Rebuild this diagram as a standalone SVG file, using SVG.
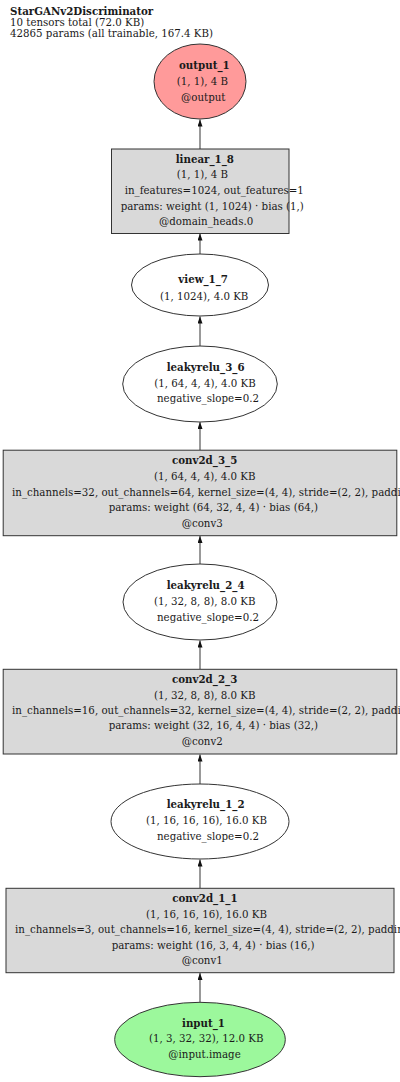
<svg xmlns="http://www.w3.org/2000/svg" width="400" height="1082" viewBox="0 0 400 1082">
<style>
text{font-family:"DejaVu Serif","Liberation Serif",serif;font-size:10.25px;fill:#1a1a1a}
.b{font-weight:bold}
.box{fill:#d9d9d9;stroke:#333;stroke-width:1}
.ell{fill:#fff;stroke:#333;stroke-width:1}
.e{stroke:#6e6e6e;stroke-width:1.4;fill:none;marker-end:url(#ah)}
</style>
<defs>
<marker id="ah" markerUnits="userSpaceOnUse" markerWidth="8" markerHeight="6" refX="7" refY="2.5" orient="auto">
<path d="M0,0 L7,2.5 L0,5 z" fill="#111"/>
</marker>
</defs>
<rect width="400" height="1082" fill="#fff"/>
<g id="title">
<text x="10" y="14.5" class="b">StarGANv2Discriminator</text>
<text x="10" y="25.8">10 tensors total (72.0 KB)</text>
<text x="10" y="37">42865 params (all trainable, 167.4 KB)</text>
</g>
<g id="edges">
<line class="e" x1="200" y1="149" x2="200" y2="119.5"/>
<line class="e" x1="200" y1="254" x2="200" y2="233.5"/>
<line class="e" x1="200" y1="346" x2="200" y2="316.5"/>
<line class="e" x1="200" y1="450" x2="200" y2="422"/>
<line class="e" x1="200" y1="564" x2="200" y2="536"/>
<line class="e" x1="200" y1="669" x2="200" y2="640.5"/>
<line class="e" x1="200" y1="784" x2="200" y2="754.5"/>
<line class="e" x1="200" y1="888" x2="200" y2="859.5"/>
<line class="e" x1="200" y1="1002" x2="200" y2="973"/>
</g>
<g id="output_1">
<ellipse cx="200" cy="81.5" rx="46" ry="37.5" fill="#ff9a9a" stroke="#333"/>
<text x="179" y="69" class="b">output_1</text>
<text x="176.7" y="85">(1, 1), 4 B</text>
<text x="181" y="100.7">@output</text>
</g>
<g id="linear_1_8">
<rect class="box" x="111.5" y="149" width="177.5" height="84.5"/>
<text x="175.7" y="162.5" class="b">linear_1_8</text>
<text x="176.7" y="178">(1, 1), 4 B</text>
<text x="124.7" y="194">in_features=1024, out_features=1</text>
<text x="120.7" y="209.5">params: weight (1, 1024) · bias (1,)</text>
<text x="159" y="225">@domain_heads.0</text>
</g>
<g id="view_1_7">
<ellipse class="ell" cx="200" cy="285" rx="68.5" ry="31"/>
<text x="178.3" y="283.3" class="b">view_1_7</text>
<text x="160" y="300">(1, 1024), 4.0 KB</text>
</g>
<g id="leakyrelu_3_6">
<ellipse class="ell" cx="200" cy="384" rx="77.3" ry="38"/>
<text x="166.7" y="370.7" class="b">leakyrelu_3_6</text>
<text x="154.3" y="386.7">(1, 64, 4, 4), 4.0 KB</text>
<text x="157" y="402.3">negative_slope=0.2</text>
</g>
<g id="conv2d_3_5">
<rect class="box" x="3.2" y="450.2" width="393.6" height="85.5"/>
<text x="172" y="464.3" class="b">conv2d_3_5</text>
<text x="154" y="480">(1, 64, 4, 4), 4.0 KB</text>
<text x="12" y="496">in_channels=32, out_channels=64, kernel_size=(4, 4), stride=(2, 2), padding=(1, 1)</text>
<text x="108.7" y="511">params: weight (64, 32, 4, 4) · bias (64,)</text>
<text x="181.7" y="526.7">@conv3</text>
</g>
<g id="leakyrelu_2_4">
<ellipse class="ell" cx="200" cy="602" rx="77" ry="38"/>
<text x="166.7" y="589" class="b">leakyrelu_2_4</text>
<text x="154" y="605">(1, 32, 8, 8), 8.0 KB</text>
<text x="157" y="620.7">negative_slope=0.2</text>
</g>
<g id="conv2d_2_3">
<rect class="box" x="3.2" y="669.3" width="393.6" height="84.7"/>
<text x="172" y="682.7" class="b">conv2d_2_3</text>
<text x="154" y="698.7">(1, 32, 8, 8), 8.0 KB</text>
<text x="12" y="714">in_channels=16, out_channels=32, kernel_size=(4, 4), stride=(2, 2), padding=(1, 1)</text>
<text x="108.7" y="729.3">params: weight (32, 16, 4, 4) · bias (32,)</text>
<text x="181.7" y="745">@conv2</text>
</g>
<g id="leakyrelu_1_2">
<ellipse class="ell" cx="200" cy="821.5" rx="89" ry="37.5"/>
<text x="166.7" y="808.3" class="b">leakyrelu_1_2</text>
<text x="146" y="824.3">(1, 16, 16, 16), 16.0 KB</text>
<text x="157" y="840">negative_slope=0.2</text>
</g>
<g id="conv2d_1_1">
<rect class="box" x="6" y="888.3" width="388" height="84.4"/>
<text x="172.3" y="901.7" class="b">conv2d_1_1</text>
<text x="146" y="917.7">(1, 16, 16, 16), 16.0 KB</text>
<text x="15" y="933.3">in_channels=3, out_channels=16, kernel_size=(4, 4), stride=(2, 2), padding=(1, 1)</text>
<text x="111.7" y="949">params: weight (16, 3, 4, 4) · bias (16,)</text>
<text x="181.7" y="964">@conv1</text>
</g>
<g id="input_1">
<ellipse cx="200" cy="1039.5" rx="85.3" ry="37.2" fill="#9cf89c" stroke="#333"/>
<text x="182" y="1026.7" class="b">input_1</text>
<text x="149" y="1042.3">(1, 3, 32, 32), 12.0 KB</text>
<text x="168.3" y="1058.3">@input.image</text>
</g>
</svg>
